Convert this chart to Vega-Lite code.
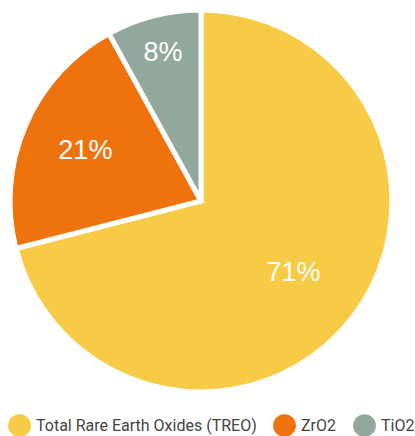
{
  "$schema": "https://vega.github.io/schema/vega-lite/v6.json",
  "width": 394,
  "height": 398,
  "padding": 0,
  "background": "white",
  "config": {"view": {"stroke": null}},
  "data": {"values": [
    {"name": "Total Rare Earth Oxides (TREO)", "value": 71},
    {"name": "ZrO2", "value": 21},
    {"name": "TiO2", "value": 8}
  ]},
  "transform": [{"calculate": "datum.value + '%'", "as": "label"}],
  "encoding": {
    "theta": {"field": "value", "type": "quantitative", "stack": true},
    "order": {"field": "value", "type": "quantitative", "sort": "descending"},
    "color": {
      "field": "name", "type": "nominal",
      "sort": ["Total Rare Earth Oxides (TREO)", "ZrO2", "TiO2"],
      "scale": {"domain": ["Total Rare Earth Oxides (TREO)", "ZrO2", "TiO2"], "range": ["#F8CB46", "#EE730E", "#93A89C"]},
      "legend": {
        "title": null, "orient": "none", "legendX": 4, "legendY": 412, "direction": "horizontal",
        "symbolType": "circle", "symbolSize": 520, "symbolStrokeWidth": 0, "symbolOpacity": 1,
        "labelFont": "Roboto", "labelFontSize": 16, "labelColor": "#444444", "labelOffset": 5,
        "columnPadding": 16, "labelLimit": 400
      }
    }
  },
  "layer": [
    {"mark": {"type": "arc", "outerRadius": 191, "stroke": "white", "strokeWidth": 5}},
    {
      "mark": {"type": "text", "radius": 117, "font": "Liberation Sans", "fontSize": 27, "fill": "white"},
      "encoding": {
        "text": {"condition": {"test": "datum.name === 'Total Rare Earth Oxides (TREO)'", "field": "label"}, "value": ""}
      }
    },
    {
      "mark": {"type": "text", "radius": 126, "font": "Liberation Sans", "fontSize": 27, "fill": "white"},
      "encoding": {
        "text": {"condition": {"test": "datum.name === 'ZrO2'", "field": "label"}, "value": ""}
      }
    },
    {
      "mark": {"type": "text", "radius": 153, "font": "Liberation Sans", "fontSize": 27, "fill": "white"},
      "encoding": {
        "text": {"condition": {"test": "datum.name === 'TiO2'", "field": "label"}, "value": ""}
      }
    }
  ]
}
